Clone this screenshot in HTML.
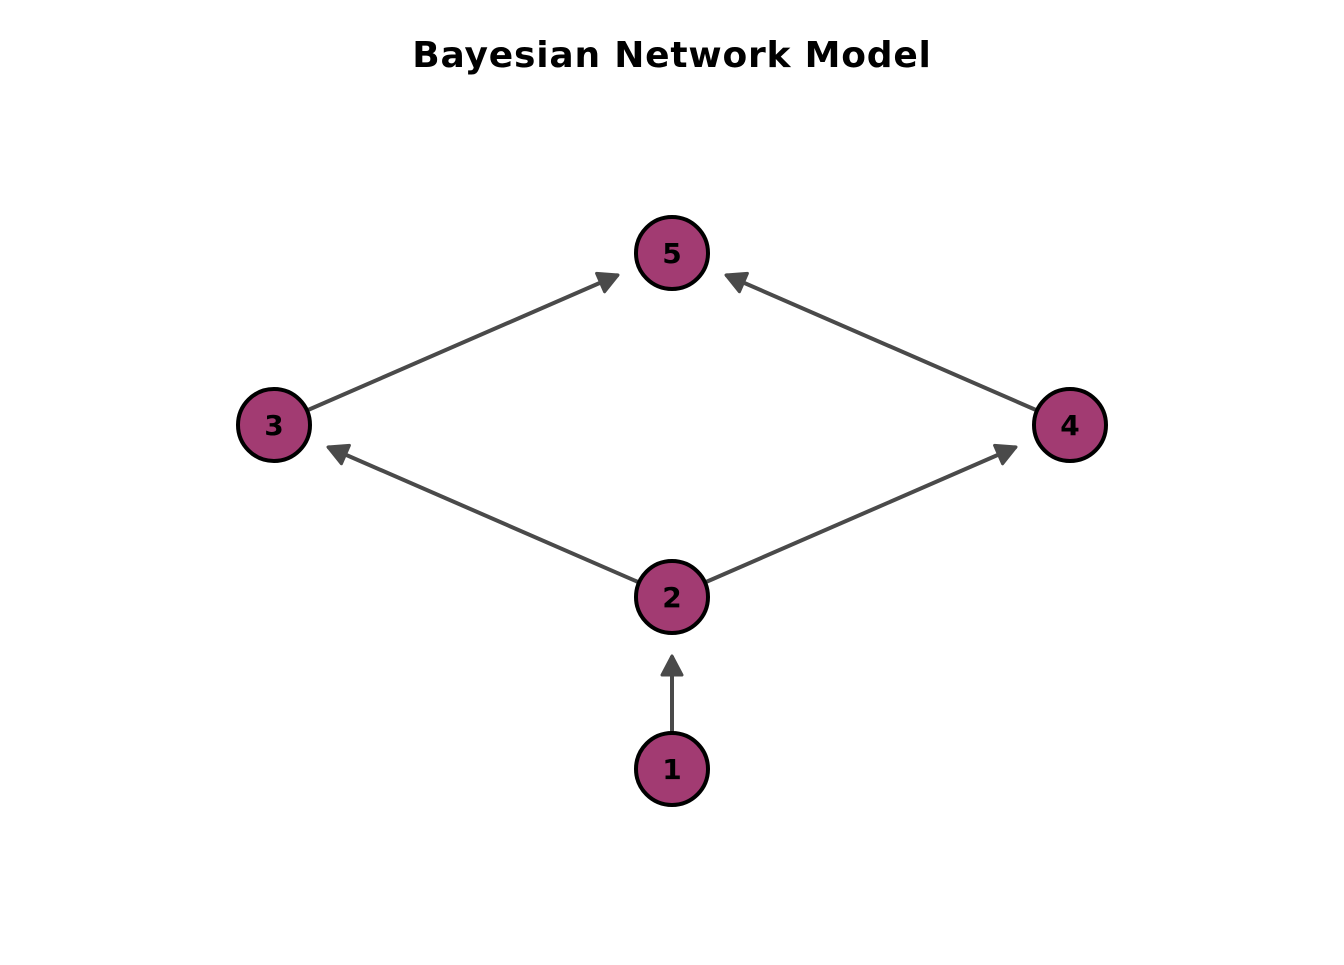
<!DOCTYPE html>
<html><head><style>body{margin:0;background:#fff}</style></head><body>
<svg width="1344" height="960" xmlns="http://www.w3.org/2000/svg">
<text x="672" y="67" text-anchor="middle" font-family="DejaVu Sans, sans-serif" font-weight="bold" font-size="36" letter-spacing="0.8" fill="#000">Bayesian Network Model</text>
<defs>
<marker id="b" markerWidth="26" markerHeight="26" refX="22" refY="13" orient="auto" markerUnits="userSpaceOnUse"><path d="M3,3 L22,13 L3,23 z" fill="#4a4a4a" stroke="#4a4a4a" stroke-width="3" stroke-linejoin="round"/></marker></defs>
<g stroke="#4a4a4a" stroke-width="4" fill="none" marker-end="url(#b)">
<line x1="308" y1="410" x2="618" y2="275"/>
<line x1="1036" y1="410" x2="726" y2="275"/>
<line x1="638" y1="582" x2="328" y2="447"/>
<line x1="706" y1="582" x2="1016" y2="447"/>
<line x1="672" y1="733" x2="672" y2="656"/>
</g>
<g fill="#A23B72" stroke="#000" stroke-width="4">
<circle cx="672" cy="253" r="36"/><circle cx="274" cy="425" r="36"/><circle cx="1070" cy="425" r="36"/><circle cx="672" cy="597" r="36"/><circle cx="672" cy="769" r="36"/>
</g>
<g font-family="DejaVu Sans, sans-serif" font-weight="bold" font-size="28" text-anchor="middle" fill="#000">
<text x="672" y="263">5</text><text x="274" y="435">3</text><text x="1070" y="435">4</text><text x="672" y="607">2</text><text x="672" y="779">1</text>
</g>
</svg>
</body></html>
